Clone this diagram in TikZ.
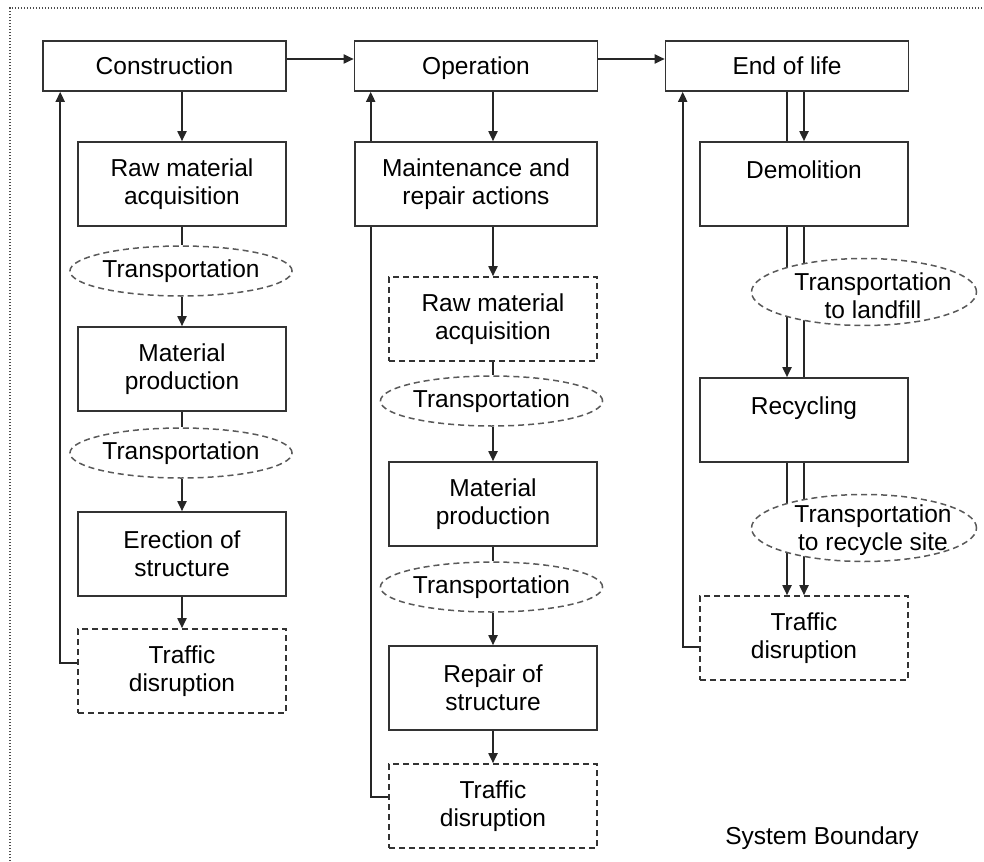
\documentclass[tikz,border=0pt]{standalone}
\usepackage{fontspec}
\setmainfont{Liberation Sans}
\usetikzlibrary{shapes.geometric,arrows.meta,backgrounds}
\begin{document}
\begin{tikzpicture}[x=1pt,y=-1pt,
  font=\fontsize{24.5}{28}\selectfont,
  line width=1.6pt,
  box/.style={draw=black!80, line width=1.6pt, fill=white, inner sep=0pt, align=center},
  dbox/.style={box, dash pattern=on 6pt off 4pt},
  trans/.style={ellipse, draw=black!65, line width=1.5pt, fill=white, dash pattern=on 6pt off 4pt, inner sep=0pt, align=center},
  arr/.style={draw=black!85, line width=1.8pt, -{Triangle[length=10pt,width=9pt]}},
  ln/.style={draw=black!85, line width=1.8pt},
  wbox/.style={minimum width=208pt, minimum height=84pt},
  topbox/.style={minimum width=243pt, minimum height=50pt, text height=18pt, text depth=0pt}]
\useasboundingbox (0,0) rectangle (984,861);
% system boundary
\draw[black!70, line width=1.3pt, dash pattern=on 1.3pt off 1.7pt] (10,861) |- (984,8);
\node (sb) at (822,838) {System Boundary};

% column 1
\node[box, topbox] (con) at (164.5,66) {Construction};
\node[box, wbox] (raw1) at (182,184) {Raw material\\acquisition};
\node[trans, minimum width=222pt, minimum height=50pt] (tr1a) at (181,271) {Transportation};
\node[box, wbox] (mat1) at (182,369) {Material\\production};
\node[trans, minimum width=222pt, minimum height=50pt] (tr1b) at (181,453) {Transportation};
\node[box, wbox] (ere) at (182,554) {Erection of\\structure};
\node[dbox, wbox] (tdis1) at (182,671) {Traffic\\disruption};

% column 2
\node[box, topbox] (op) at (476,66) {Operation};
\node[box, minimum width=242pt, minimum height=84pt] (mnt) at (476,184) {Maintenance and\\repair actions};
\node[dbox, wbox] (raw2) at (493,319) {Raw material\\acquisition};
\node[trans, minimum width=205pt, minimum height=50pt] (tr2a) at (491.5,401) {Transportation};
\node[box, wbox] (mat2) at (493,504) {Material\\production};
\node[trans, minimum width=205pt, minimum height=50pt] (tr2b) at (491.5,587) {Transportation};
\node[box, wbox] (rep) at (493,688) {Repair of\\structure};
\node[dbox, wbox] (tdis2) at (493,806) {Traffic\\disruption};

% column 3
\node[box, topbox] (eol) at (787,66) {End of life};
\node[box, wbox] (dem) at (804,184) {Demolition\\~};
\node[trans, minimum width=225pt, minimum height=67pt] (tl) at (864,292) {};
\node[align=center] (tlt) at (873,296) {Transportation\\to landfill};
\node[box, wbox] (rec) at (804,420) {Recycling\\~};
\node[trans, minimum width=225pt, minimum height=67pt] (trs) at (864,528) {};
\node[align=center] (trst) at (873,530) {Transportation\\to recycle site};
\node[dbox, wbox] (tdis3) at (804,638) {Traffic\\disruption};

% horizontal flow
\draw[arr] ([yshift=7pt]con.east) -- ([yshift=7pt]op.west);
\draw[arr] ([yshift=7pt]op.east) -- ([yshift=7pt]eol.west);

% column 1
\draw[arr] (con.south -| raw1.north) -- (raw1.north);
\draw[ln] (raw1.south) -- (tr1a.north -| raw1.south);
\draw[arr] (tr1a.south -| raw1.south) -- (mat1.north);
\draw[ln] (mat1.south) -- (tr1b.north -| mat1.south);
\draw[arr] (tr1b.south -| mat1.south) -- (ere.north);
\draw[arr] (ere.south) -- (tdis1.north);
\draw[arr] ([yshift=8pt]tdis1.west) -| ([xshift=18pt]con.south west);
% column 2
\draw[arr] (op.south -| raw2.north) -- (mnt.north -| raw2.north);
\draw[arr] (mnt.south -| raw2.north) -- (raw2.north);
\draw[ln] (raw2.south) -- (tr2a.north -| raw2.south);
\draw[arr] (tr2a.south -| raw2.south) -- (mat2.north);
\draw[ln] (mat2.south) -- (tr2b.north -| mat2.south);
\draw[arr] (tr2b.south -| mat2.south) -- (rep.north);
\draw[arr] (rep.south) -- (tdis2.north);
\begin{scope}[on background layer]
\draw[arr] ([yshift=9pt]tdis2.west) -| ([xshift=17pt]op.south west);
% column 3
\draw[ln] (eol.south) -- (eol.south |- dem.north);
\draw[arr] (eol.south -| dem.north) -- (dem.north);
\draw[arr] (eol.south |- dem.south) -- (eol.south |- rec.north);
\draw[ln] (dem.south) -- (rec.north);
\draw[arr] (eol.south |- rec.south) -- (eol.south |- tdis3.north);
\draw[arr] (rec.south) -- (tdis3.north);
\end{scope}
\draw[arr] ([yshift=-9pt]tdis3.west) -| ([xshift=18pt]eol.south west);
\end{tikzpicture}
\end{document}
